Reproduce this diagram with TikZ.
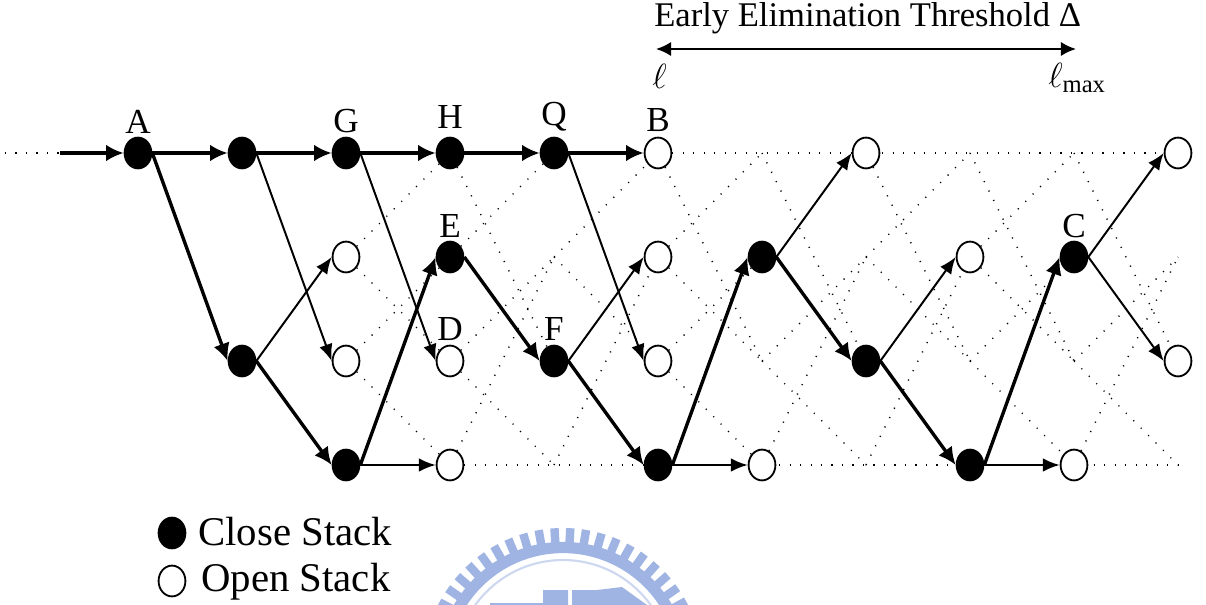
\documentclass[tikz,border=0pt]{standalone}
\usepackage{fontspec}
\setmainfont{Liberation Serif}
\usetikzlibrary{arrows.meta,shapes.geometric,backgrounds}

\definecolor{sealblue}{RGB}{160,180,228}
\definecolor{seallight}{RGB}{205,215,240}

\tikzset{
    closestack/.style={ellipse,draw,fill=black,line width=1.3pt,minimum width=0.67cm,minimum height=0.77cm,inner sep=0pt},
    openstack/.style={ellipse,draw,fill=white,line width=1.3pt,minimum width=0.67cm,minimum height=0.77cm,inner sep=0pt},
    bigarrow/.style={line width=2.4pt,-{Latex[length=0.44cm,width=0.42cm]}},
    thinarrow/.style={line width=1.4pt,-{Latex[length=0.42cm,width=0.34cm]}},
    dotline/.style={line width=1pt,dash pattern=on 0.8pt off 6.66pt},
    lbl/.style={inner sep=0pt,font=\fontsize{25}{25}\selectfont},
    legendtext/.style={inner sep=0pt,anchor=west,font=\fontsize{29}{29}\selectfont}
}

\begin{document}
\begin{tikzpicture}[x=0.025cm,y=-0.025cm]

    \useasboundingbox (0,0) rectangle (1206,605);

    % Seal at the bottom of the page
    \begin{scope}
        \clip (0,0) rectangle (1206,605);
        \foreach \a in {0,6.5,...,357}
            \draw[sealblue,line width=6pt] (563,668) ++(\a:120) -- ++(\a:20);
        \draw[sealblue,line width=8pt] (563,668) circle (120.5);
        \draw[seallight,line width=1.5pt] (563,668) circle (108);
        \fill[sealblue] (490,605) -- (490,603) -- (543,603) -- (543,590) -- (568,590) -- (568,605) -- cycle;
        \fill[sealblue] (572,605) -- (572,590) -- (597,590) -- (622,587) -- (647,605) -- cycle;
    \end{scope}

    % Free ends of the lines
    \coordinate (start) at (60,153);
    \coordinate (far) at (5,153);
    \coordinate (t4) at (762,153);
    \coordinate (t6) at (970,153);
    \coordinate (t7) at (1074,153);
    \coordinate (s4) at (554,257);
    \coordinate (s7) at (866,257);
    \coordinate (end1) at (1178,257);
    \coordinate (m3) at (762,361);
    \coordinate (m4) at (970,361);
    \coordinate (m5) at (1074,361);
    \coordinate (b2) at (554,465);
    \coordinate (b4) at (866,465);
    \coordinate (end3) at (1178,465);

    % First row
    \node[closestack] (A) at (138,153) {};
    \node[closestack] (a1) at (242,153) {};
    \node[closestack] (G) at (346,153) {};
    \node[closestack] (H) at (450,153) {};
    \node[closestack] (Q) at (554,153) {};
    \node[openstack] (B) at (658,153) {};
    \node[openstack] (t5) at (866,153) {};
    \node[openstack] (t8) at (1178,153) {};

    % Second row
    \node[openstack] (o1) at (346,257) {};
    \node[closestack] (E) at (450,257) {};
    \node[openstack] (o2) at (658,257) {};
    \node[closestack] (u1) at (762,257) {};
    \node[openstack] (o3) at (970,257) {};
    \node[closestack] (C) at (1074,257) {};

    % Third row
    \node[closestack] (m1) at (242,361) {};
    \node[openstack] (o4) at (346,361) {};
    \node[openstack] (D) at (450,361) {};
    \node[closestack] (F) at (554,361) {};
    \node[openstack] (o5) at (658,361) {};
    \node[closestack] (m2) at (866,361) {};
    \node[openstack] (o6) at (1178,361) {};

    % Fourth row
    \node[closestack] (b1) at (346,465) {};
    \node[openstack] (o7) at (450,465) {};
    \node[closestack] (b3) at (658,465) {};
    \node[openstack] (o8) at (762,465) {};
    \node[closestack] (b5) at (970,465) {};
    \node[openstack] (o9) at (1074,465) {};

    % Dotted trellis, behind the stacks
    \begin{pgfonlayer}{background}
        \draw[dotline] (far) -- (start);
        \draw[dotline] (B.east) -- (t8.west);
        \draw[dotline] (o7.east) -- (end3);
        \foreach \from/\to in {o1/H, o1/D, o4/E, o4/o7,
                               H/F, E/Q, D/s4, D/b2, o7/s4,
                               s4/B, s4/o5, b2/o2,
                               B/m3, o2/t4, o2/m3, o5/u1, o5/o8,
                               t4/m2, m3/s7, m3/b4, o8/s7,
                               t5/m4, s7/t6, s7/m4, b4/o3,
                               t6/m5, o3/t7, o3/m5, m4/C, m4/o9,
                               t7/o6, m5/end1, m5/end3, o9/end1}
            \draw[dotline] (\from) -- (\to);
    \end{pgfonlayer}

    % Thin arrows
    \foreach \from/\to in {a1/o4, G/D, Q/o5, m1/o1, F/o2, u1/t5, m2/o3, C/t8, C/o6, b1/o7, b3/o8, b5/o9}
        \draw[thinarrow] (\from.east) -- (\to.west);

    % Thick path
    \foreach \from/\to in {A/a1, a1/G, G/H, H/Q, Q/B, A/m1, m1/b1, b1/E, E/F, F/b3, b3/u1, u1/m2, m2/b5, b5/C}
        \draw[bigarrow] (\from.east) -- (\to.west);
    \draw[bigarrow] (start) -- (A.west);

    % Letters over the stacks
    \node[lbl] (lA) at (138,122) {A};
    \node[lbl] (lG) at (346,121) {G};
    \node[lbl] (lH) at (450,117) {H};
    \node[lbl] (lQ) at (554,117) {Q};
    \node[lbl] (lB) at (658,120) {B};
    \node[lbl] (lE) at (450,226) {E};
    \node[lbl] (lD) at (450,329) {D};
    \node[lbl] (lF) at (554,329) {F};
    \node[lbl] (lC) at (1074,226) {C};

    % Threshold range
    \node[lbl,anchor=west,font=\fontsize{24.6}{24.6}\selectfont] (thr) at (654,18) {Early Elimination Threshold Δ};
    \coordinate (rl) at (656,49);
    \coordinate (rr) at (1076,49);
    \draw[line width=1.5pt,{Latex[length=0.38cm,width=0.36cm]}-{Latex[length=0.38cm,width=0.36cm]}] (rl) -- (rr);
    \node[lbl,anchor=west] (lmin) at (652,76) {$\ell$};
    \node[lbl,anchor=west] (lmax) at (1048,78) {$\ell_{\mathrm{max}}$};

    % Legend
    \node[closestack] (k1) at (172,533) {};
    \node[openstack] (k2) at (172,581) {};
    \node[legendtext] (t1) at (198,532) {Close Stack};
    \node[legendtext] (t2) at (201,582) {Open Stack};

\end{tikzpicture}
\end{document}
